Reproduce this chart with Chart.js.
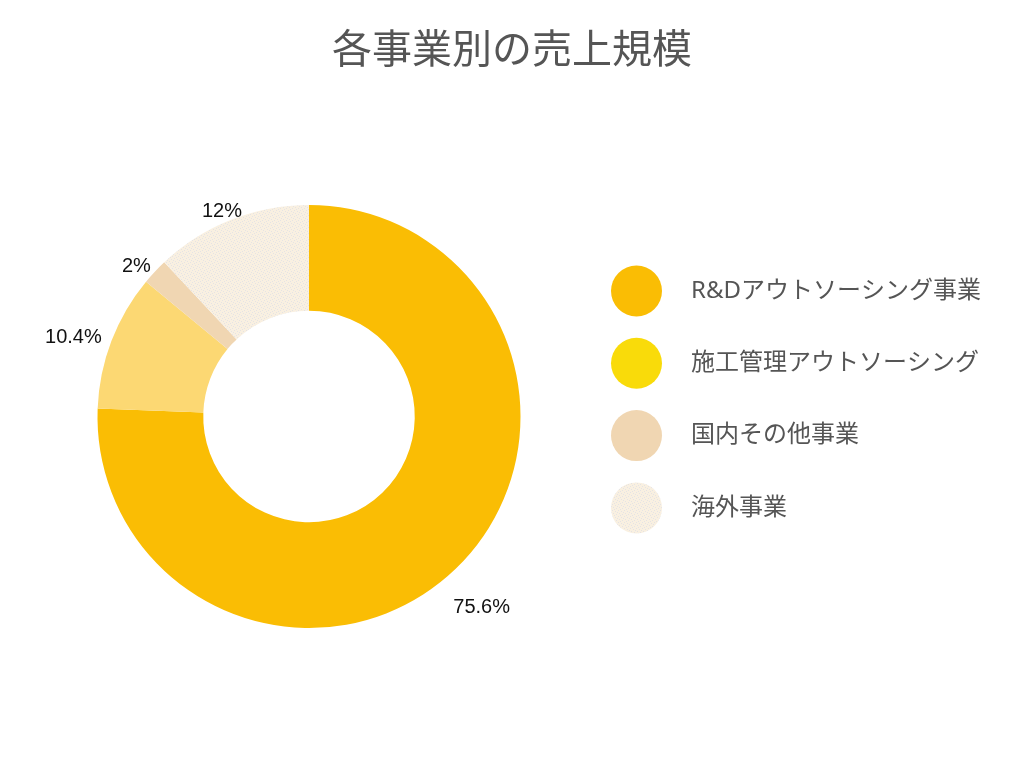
<!DOCTYPE html>
<html><head><meta charset="utf-8">
<script src="https://cdn.jsdelivr.net/npm/chart.js@4.4.1/dist/chart.umd.min.js"></script>
<style>html,body{margin:0;padding:0;background:#fff;}#wrap{width:1024px;height:768px;}</style>
</head><body><div id="wrap"><canvas id="c" width="1024" height="768"></canvas></div>
<script>
const chartTitle = '各事業別の売上規模';
const categories = ['R&Dアウトソーシング事業', '施工管理アウトソーシング', '国内その他事業', '海外事業'];
const shares = [75.6, 10.4, 2, 12];
const shareLabels = ['75.6%', '10.4%', '2%', '12%'];

function makeDots(base, dot) {
  const t = document.createElement('canvas'); t.width = 6; t.height = 6;
  const g = t.getContext('2d');
  g.fillStyle = base; g.fillRect(0, 0, 6, 6);
  g.fillStyle = dot;
  [[0,0],[3,1],[1,3],[4,4],[5,2],[2,5]].forEach(p => g.fillRect(p[0], p[1], 1, 1));
  return g.createPattern(t, 'repeat');
}
const ctx = document.getElementById('c').getContext('2d');
const overseas = makeDots('#F9F0E1', 'rgba(205,210,232,0.45)');
const sliceColors = ['#FABD04', '#FCD873', '#F0D6B2', overseas];
const legendColors = ['#FABD04', '#F9DB0A', '#F0D6B2', overseas];

const extras = {
  id: 'extras',
  afterDraw(chart) {
    const c = chart.ctx;
    c.save();
    // title
    c.fillStyle = '#555555';
    c.font = '40px "Noto Sans CJK JP", sans-serif';
    c.textAlign = 'center'; c.textBaseline = 'middle';
    c.fillText(chartTitle, 512, 48);
    // slice labels
    const meta = chart.getDatasetMeta(0);
    c.font = '20px "Liberation Sans", Arial, sans-serif';
    c.fillStyle = '#111111';
    meta.data.forEach((arc, i) => {
      const p = arc.getProps(['x','y','startAngle','endAngle','outerRadius'], true);
      const mid = (p.startAngle + p.endAngle) / 2;
      const w = c.measureText(shareLabels[i]).width;
      const cs = Math.cos(mid), sn = Math.sin(mid);
      const r = p.outerRadius + 12 + (w / 2) * Math.abs(cs) + (sn > 0 ? 12 * sn : 0);
      c.fillText(shareLabels[i], p.x + r * cs - 2, p.y + r * sn + 10);
    });
    // legend
    const lx = 636.5, ly = 291, gap = 72.3;
    categories.forEach((name, i) => {
      const y = ly + i * gap;
      c.beginPath(); c.arc(lx, y, 25.5, 0, Math.PI * 2);
      c.fillStyle = legendColors[i]; c.fill();
      c.fillStyle = '#555555';
      c.textAlign = 'left';
      c.font = '24px "Noto Sans", "Noto Sans CJK JP", sans-serif';
      c.fillText(name, 691, y);
    });
    c.restore();
  }
};

new Chart(ctx, {
  type: 'doughnut',
  data: {
    labels: categories,
    datasets: [{ data: shares, backgroundColor: sliceColors, borderWidth: 0 }]
  },
  options: {
    responsive: false,
    animation: false,
    events: [],
    cutout: '50%',
    layout: { padding: { left: 97, right: 503, top: 205, bottom: 140 } },
    plugins: { legend: { display: false }, title: { display: false }, tooltip: { enabled: false } }
  },
  plugins: [extras]
});
</script></body></html>
